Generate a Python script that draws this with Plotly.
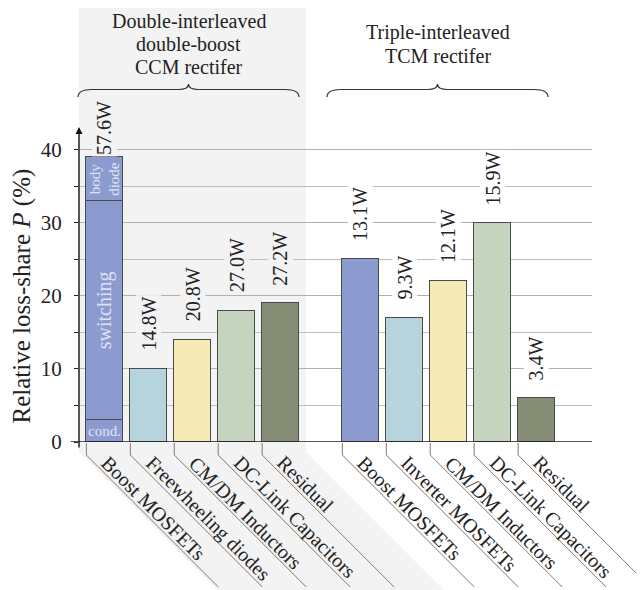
import plotly.graph_objects as go

# ---------------- data ----------------
left_categories = ["Boost MOSFETs", "Freewheeling diodes", "CM/DM Inductors",
                   "DC-Link Capacitors", "Residual"]
left_values = [39, 10, 14, 18, 19]
left_power = ["57.6W", "14.8W", "20.8W", "27.0W", "27.2W"]

boost_parts = ["cond.", "switching", "body<br>diode"]
boost_part_values = [3, 30, 6]

right_categories = ["Boost MOSFETs", "Inverter MOSFETs", "CM/DM Inductors",
                    "DC-Link Capacitors", "Residual"]
right_values = [25, 17, 22, 30, 6]
right_power = ["13.1W", "9.3W", "12.1W", "15.9W", "3.4W"]

group_titles = [["Double-interleaved", "double-boost", "CCM rectifer"],
                ["Triple-interleaved", "TCM rectifer"]]
y_ticks = [0, 10, 20, 30, 40]
y_title = "Relative loss-share <i>P</i> (%)"

# ---------------- style / layout ----------------
colors = ["#8b9bcf", "#b6d4dd", "#f6eab6", "#c4d4be", "#868d75"]
FONT = "Liberation Serif"
TXT = "#222222"
BAND = "#f3f3f3"
OFF = 8  # page body margin
W, H = 644 - OFF, 590 - OFF
ML, MR, MT, MB = 79 - OFF, 52, 128 - OFF, 148
XR = [-0.585, 11.09]
YR = [0, 43]
GAP = 1.825
BW = 0.834

left_x = list(range(len(left_categories)))
right_x = [left_x[-1] + GAP + i for i in range(len(right_categories))]

pw = W - ML - MR
ph = H - MT - MB


def xpx(x):  # data -> page pixel
    return OFF + ML + (x - XR[0]) / (XR[1] - XR[0]) * pw


def ypx(y):
    return OFF + MT + ph - (y - YR[0]) / (YR[1] - YR[0]) * ph


def px2paper(px, py):  # page pixel -> paper
    return (px - OFF - ML) / pw, (OFF + MT + ph - py) / ph


def path_from_px(cmds):
    out = []
    for c in cmds:
        op, pts = c[0], c[1:]
        s = op
        for (px, py) in pts:
            a, b = px2paper(px, py)
            s += f" {a:.5f},{b:.5f}"
        out.append(s)
    return " ".join(out)


fig = go.Figure()

all_x = left_x + right_x
base_y = [boost_part_values[0]] + left_values[1:] + right_values
fig.add_trace(go.Bar(x=all_x, y=base_y, width=BW,
                     marker=dict(color=colors + colors,
                                 line=dict(color="#4a4a4a", width=1.3)),
                     hoverinfo="skip"))
for v in boost_part_values[1:]:
    fig.add_trace(go.Bar(x=[left_x[0]], y=[v], width=BW,
                         marker=dict(color=colors[0],
                                     line=dict(color="#4a4a4a", width=1.3)),
                         hoverinfo="skip"))

shapes = []
annotations = []

# grey band behind the first group
xg0 = xpx(XR[0])
xg1 = xpx(left_x[-1] + BW / 2) + 7
diag = 138
shapes.append(dict(type="path", xref="paper", yref="paper", layer="below",
                   line=dict(width=0), fillcolor=BAND,
                   path=path_from_px([("M", (xg0, 3)), ("L", (xg1, 3)),
                                      ("L", (xg1, 452)), ("L", (xg1 + diag, 590)),
                                      ("L", (xg0 + diag, 590)), ("L", (xg0, 452))]) + " Z"))

# baseline
x0p, _ = px2paper(70.7, 0)
shapes.append(dict(type="line", xref="paper", yref="y", x0=x0p, x1=1, y0=0, y1=0,
                   line=dict(color="#222222", width=1.5), layer="above"))

# y-axis arrow
ay_tip = px2paper(0, 127)[1]
annotations.append(dict(x=0, y=ay_tip, xref="paper", yref="paper", text="",
                        showarrow=True, arrowhead=2, arrowsize=1, arrowwidth=1.4,
                        arrowcolor="#111111", ax=0, ay=449 - 127))

# leader lines and category labels
cats = left_categories + right_categories
for i, (x, cat) in enumerate(zip(all_x, cats)):
    lx = xpx(x - BW / 2)
    shapes.append(dict(type="path", xref="paper", yref="paper", layer="above",
                       line=dict(color="#7a7a7a", width=1),
                       path=path_from_px([("M", (lx, ypx(0) + 1)), ("L", (lx, 455)),
                                          ("L", (lx + 132, 587))])))
    ax_, ay_ = px2paper(lx + 8, 449)
    annotations.append(dict(x=ax_, y=ay_, xref="paper", yref="paper", text=cat,
                            textangle=45, xanchor="left", yanchor="top",
                            showarrow=False, font=dict(family=FONT, size=20, color=TXT)))

# value labels
powers = left_power + right_power
tops = left_values + right_values
for i, (x, t, p) in enumerate(zip(all_x, tops, powers)):
    annotations.append(dict(x=x, y=t, xref="x", yref="y", text=p, textangle=-90,
                            xanchor="center", yanchor="bottom",
                            yshift=0 if i == 0 else 16, showarrow=False,
                            bgcolor=BAND if i < len(left_x) else "white",
                            font=dict(family=FONT, size=20, color=TXT)))

# inside texts for stacked bar
cum = 0
inner_sizes = [15, 20, 15]
for name, v, sz in zip(boost_parts, boost_part_values, inner_sizes):
    annotations.append(dict(x=left_x[0], y=cum + v / 2, xref="x", yref="y", text=name,
                            textangle=0 if name == "cond." else -90,
                            showarrow=False, xanchor="center", yanchor="middle",
                            font=dict(family=FONT, size=sz, color="#dfe3f5")))
    cum += v

# group titles and braces
title_lines_y = [[21, 44, 67], [32, 56]]
brace_spans = [(78, 299), (327, 548)]
for lines, ys, (bl, br) in zip(group_titles, title_lines_y, brace_spans):
    cx = (bl + br) / 2
    for ln, yy in zip(lines, ys):
        a, b = px2paper(cx, yy)
        annotations.append(dict(x=a, y=b, xref="paper", yref="paper", text=ln,
                                showarrow=False, xanchor="center", yanchor="middle",
                                font=dict(family=FONT, size=20, color=TXT)))
    yb, yl, yt, r, rt = 97, 89.5, 84, 14, 10
    shapes.append(dict(type="path", xref="paper", yref="paper", layer="above",
                       line=dict(color="#333333", width=1.2),
                       path=path_from_px([("M", (bl, yb)), ("Q", (bl, yl), (bl + r, yl)),
                                          ("L", (cx - rt, yl)), ("Q", (cx, yl), (cx, yt)),
                                          ("Q", (cx, yl), (cx + rt, yl)),
                                          ("L", (br - r, yl)), ("Q", (br, yl), (br, yb))])))

# y axis title
a, b = px2paper(21, 296.5)
annotations.append(dict(x=a, y=b, xref="paper", yref="paper", text=y_title,
                        textangle=-90, showarrow=False, xanchor="center", yanchor="middle",
                        font=dict(family=FONT, size=25, color=TXT)))

fig.update_layout(
    width=W, height=H, margin=dict(l=ML, r=MR, t=MT, b=MB),
    barmode="stack", bargap=0, showlegend=False,
    paper_bgcolor="white", plot_bgcolor="rgba(0,0,0,0)",
    font=dict(family=FONT, color=TXT),
    shapes=shapes, annotations=annotations,
    xaxis=dict(range=XR, showgrid=False, zeroline=False, showticklabels=False,
               showline=False, ticks=""),
    yaxis=dict(range=YR, tickvals=y_ticks, showgrid=True, gridcolor="#b0b0b0",
               gridwidth=1.2, zeroline=False, showline=False,
               ticks="outside", ticklen=4, tickcolor="#222222", tickwidth=1,
               ticklabelstandoff=8,
               tickfont=dict(family=FONT, size=21, color=TXT),
               minor=dict(tickvals=[5, 15, 25, 35], showgrid=True, gridcolor="#bdbdbd",
                          gridwidth=1, ticks="outside", ticklen=4, tickcolor="#222222")),
)

fig.write_html("out.html")
